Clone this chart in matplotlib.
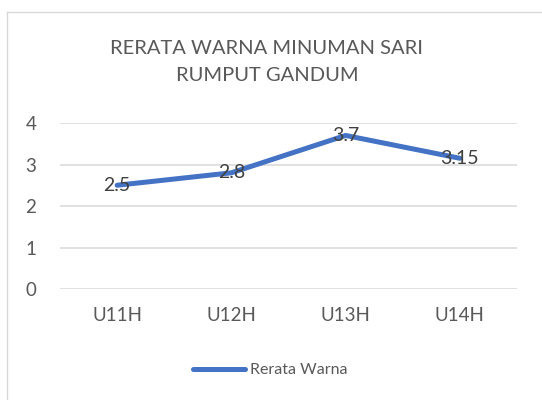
import matplotlib.pyplot as plt
from matplotlib.lines import Line2D

plt.rcParams['font.family'] = ['Lato', 'DejaVu Sans']

categories = ['U11H', 'U12H', 'U13H', 'U14H']
values = [2.5, 2.8, 3.7, 3.15]
labels = ['2.5', '2.8', '3.7', '3.15']
series_name = 'Rerata Warna'
title = 'RERATA WARNA MINUMAN SARI\nRUMPUT GANDUM'

fig = plt.figure(figsize=(5.42, 4), dpi=100)
ax = fig.add_axes([60/542, 1-289/400, 457/542, 166/400])

x = range(len(categories))
ax.plot(x, values, color='#4472C4', linewidth=3.6, solid_capstyle='round',
        label=series_name, zorder=3)
for xi, v, lab in zip(x, values, labels):
    ax.text(xi, v, lab, ha='center', va='center', fontsize=14,
            color='#404040', zorder=4)

ax.set_xlim(-0.5, len(categories) - 0.5)
ax.set_ylim(0, 4)
ax.set_yticks([0, 1, 2, 3, 4])
ax.set_xticks(list(x))
ax.set_xticklabels(categories)
ax.grid(axis='y', color='#D9D9D9', linewidth=1.1)
ax.set_axisbelow(True)
for s in ax.spines.values():
    s.set_visible(False)
ax.tick_params(length=0, labelsize=13.5, colors='#595959')
ax.tick_params(axis='y', pad=17)
ax.tick_params(axis='x', pad=13)

fig.text(267/542, 1-62/400, title, ha='center', va='center', fontsize=14.5,
         color='#595959', linespacing=1.65)

fig.legend(loc='center', bbox_to_anchor=(270/542, 1-370/400), frameon=False,
           fontsize=11.5, handlelength=3.3, handletextpad=0.3,
           labelcolor='#595959')

# chart border
fig.add_artist(Line2D([7/542, 7/542], [0, 1-11.5/400], color='#D9D9D9', linewidth=1))
fig.add_artist(Line2D([7/542, 1], [1-11.5/400, 1-11.5/400], color='#D9D9D9', linewidth=1))

fig.savefig('out.png', dpi=100, facecolor='white')
